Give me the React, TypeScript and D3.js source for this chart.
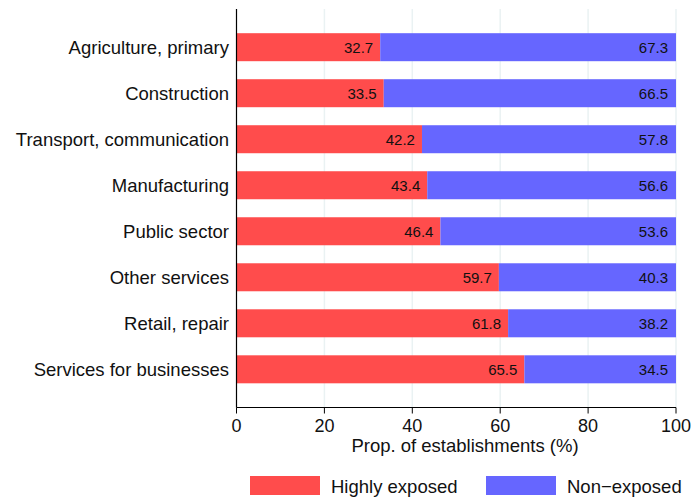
import React from 'react'
import * as d3 from 'd3'

const categories = [
  'Agriculture, primary',
  'Construction',
  'Transport, communication',
  'Manufacturing',
  'Public sector',
  'Other services',
  'Retail, repair',
  'Services for businesses'
]
const highlyExposed = [32.7, 33.5, 42.2, 43.4, 46.4, 59.7, 61.8, 65.5]
const nonExposed = [67.3, 66.5, 57.8, 56.6, 53.6, 40.3, 38.2, 34.5]
const xTicks = [0, 20, 40, 60, 80, 100]
const seriesNames = ['Highly exposed', 'Non\u2212exposed']

const RED = '#ff4c4c'
const BLUE = '#6666ff'
const GRID = '#eaf2f3'
const FONT = '"Liberation Sans", Arial, Helvetica, sans-serif'

const App = () => {
  const width = 693
  const height = 498
  const plot = { left: 236.5, right: 676, top: 9, bottom: 407.5 }

  //D3 mathy bits
  const x = d3.scaleLinear().domain([0, 100]).range([plot.left, plot.right])
  const y = d3
    .scalePoint()
    .domain(categories)
    .range([plot.top, plot.bottom])
    .padding(0.83)
  const barH = 28

  const grid = xTicks.slice(1).map((t) => (
    <line
      key={'g' + t}
      x1={x(t)}
      x2={x(t)}
      y1={plot.top}
      y2={plot.bottom}
      stroke={GRID}
      strokeWidth={1.5}
    />
  ))

  const bars = categories.map((c, i) => {
    const cy = y(c) as number
    const h = highlyExposed[i]
    const n = nonExposed[i]
    return (
      <g key={c}>
        <rect x={x(0)} y={cy - barH / 2} width={x(h) - x(0)} height={barH} fill={RED} />
        <rect x={x(h)} y={cy - barH / 2} width={x(h + n) - x(h)} height={barH} fill={BLUE} />
        <text x={x(h) - 7} y={cy + 5.5} textAnchor="end" fontSize={15} fill="#111">
          {h.toFixed(1)}
        </text>
        <text x={x(h + n) - 8} y={cy + 5.5} textAnchor="end" fontSize={15} fill="#111">
          {n.toFixed(1)}
        </text>
        <text x={229} y={cy + 7} textAnchor="end" fontSize={18.5} fill="#111">
          {c}
        </text>
      </g>
    )
  })

  const ticks = xTicks.map((t) => (
    <g key={'t' + t}>
      <line x1={x(t)} x2={x(t)} y1={plot.bottom} y2={plot.bottom + 6} stroke="#000" strokeWidth={1} />
      <text x={x(t)} y={432} textAnchor="middle" fontSize={18} fill="#111">
        {t}
      </text>
    </g>
  ))

  return (
    <svg
      width={width}
      height={height}
      style={{ position: 'absolute', left: 0, top: 0, background: '#fff' }}
      fontFamily={FONT}
    >
      <rect width={width} height={height} fill="#fff" />
      {grid}
      {bars}
      <line x1={plot.left} x2={plot.left} y1={plot.top} y2={plot.bottom} stroke="#000" strokeWidth={1.2} />
      <line x1={plot.left} x2={plot.right} y1={plot.bottom} y2={plot.bottom} stroke="#000" strokeWidth={1.2} />
      {ticks}
      <text x={465} y={452} textAnchor="middle" fontSize={18.5} fill="#111">
        Prop. of establishments (%)
      </text>
      <g>
        <rect x={250} y={476} width={70} height={19} fill={RED} />
        <text x={331} y={492.5} fontSize={18.5} fill="#111">
          {seriesNames[0]}
        </text>
        <rect x={486} y={476} width={70} height={19} fill={BLUE} />
        <text x={567} y={492.5} fontSize={18.5} fill="#111">
          {seriesNames[1]}
        </text>
      </g>
    </svg>
  )
}

export default App
